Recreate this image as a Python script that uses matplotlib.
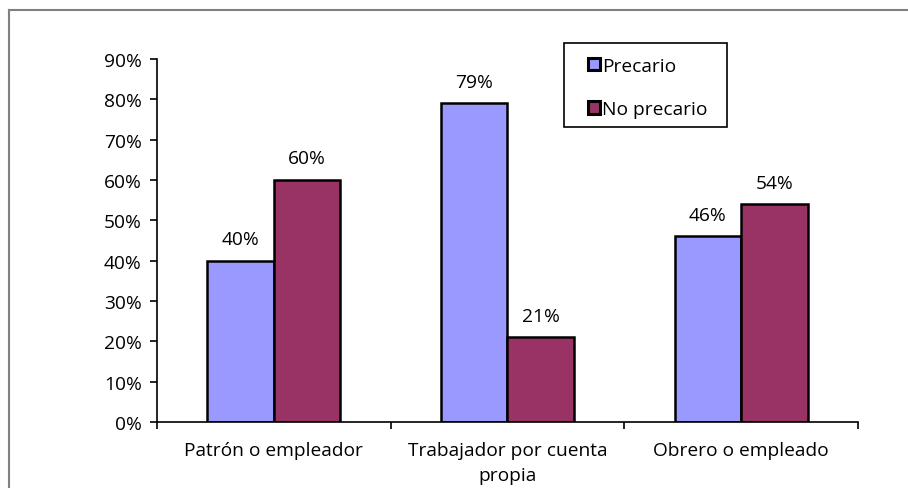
import matplotlib
matplotlib.use("Agg")
import matplotlib.pyplot as plt
from matplotlib.lines import Line2D
from matplotlib.patches import Rectangle
import numpy as np

categories = ["Patrón o empleador", "Trabajador por cuenta\npropia", "Obrero o empleado"]
precario = [0.40, 0.79, 0.46]
no_precario = [0.60, 0.21, 0.54]
series_names = ["Precario", "No precario"]
colors = ["#9999FF", "#993366"]

plt.rcParams['font.family'] = ['Open Sans', 'DejaVu Sans']
FS = 13.8
W, H = 908, 489

fig = plt.figure(figsize=(W/100, H/100), dpi=100)
ax = fig.add_axes([157/W, 1-423/H, (858-157)/W, (423-60)/H])

x = np.arange(len(categories))
w = 0.285
b1 = ax.bar(x - w/2, precario, w, color=colors[0], edgecolor="black", linewidth=1.8, label=series_names[0])
b2 = ax.bar(x + w/2, no_precario, w, color=colors[1], edgecolor="black", linewidth=1.8, label=series_names[1])

for bars, vals in ((b1, precario), (b2, no_precario)):
    for r, v in zip(bars, vals):
        ax.annotate(f"{round(v*100):d}%", (r.get_x() + r.get_width()/2, v),
                    xytext=(0, 9), textcoords="offset points",
                    ha="center", va="bottom", fontsize=FS)

ax.set_xlim(-0.5, len(categories) - 0.5)
ax.set_ylim(0, 0.9)
ax.set_yticks(np.arange(0, 0.91, 0.1))
ax.set_yticklabels([f"{int(round(t*100))}%" for t in np.arange(0, 0.91, 0.1)], fontsize=FS)
ax.tick_params(axis="y", direction="out", length=5, width=1.2, pad=6)

ax.set_xticks(np.arange(-0.5, len(categories)), minor=False)
ax.set_xticklabels([])
ax.set_xticks(x, minor=True)
ax.set_xticklabels(categories, minor=True, fontsize=FS, linespacing=1.5)
ax.tick_params(axis="x", which="major", direction="out", length=5, width=1.2)
ax.tick_params(axis="x", which="minor", length=0, pad=14)

for s in ("top", "right"):
    ax.spines[s].set_visible(False)
for s in ("left", "bottom"):
    ax.spines[s].set_linewidth(1.2)

# legend box frame
ax.add_artist(Rectangle((564/W, 1-128/H), (727-564)/W, (128-44)/H, transform=fig.transFigure,
                        facecolor="white", edgecolor="black", lw=1.2, zorder=4, clip_on=False))
leg = ax.legend(loc="upper left", bbox_to_anchor=(588/W, 1-58/H), bbox_transform=fig.transFigure,
                frameon=False, fontsize=FS,
                handlelength=0.6, handleheight=0.6, handletextpad=0.15,
                labelspacing=1.32, borderpad=0, borderaxespad=0)
leg.set_zorder(6)
for hp in leg.legend_handles:
    hp.set_linewidth(2.2)

fig.add_artist(Line2D([9/W, 9/W], [0, 1-11/H], transform=fig.transFigure, color="#808080", lw=1.5))
fig.add_artist(Line2D([9/W, 1], [1-11/H, 1-11/H], transform=fig.transFigure, color="#808080", lw=1.5))

fig.savefig("out.png", dpi=100)
